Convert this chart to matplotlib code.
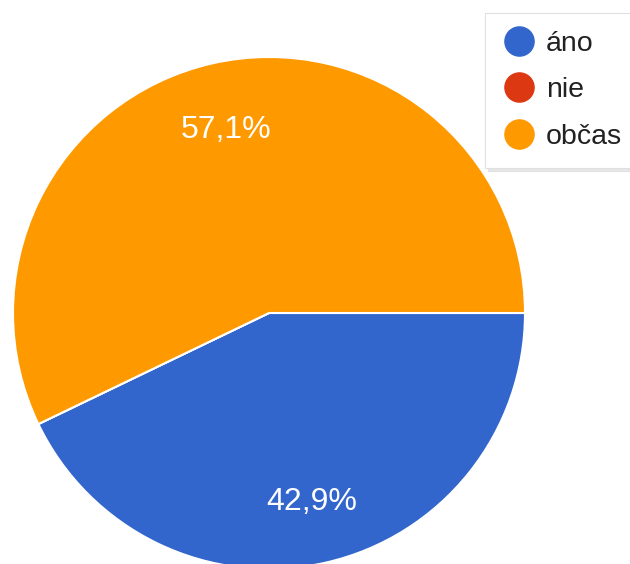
import matplotlib
matplotlib.use("Agg")
import matplotlib.pyplot as plt
from matplotlib.lines import Line2D

plt.rcParams['font.family'] = ['Liberation Sans', 'DejaVu Sans']

labels = ['áno', 'nie', 'občas']
counts = [3, 0, 4]
colors = ['#3366cc', '#dc3912', '#ff9900']

fig = plt.figure(figsize=(6.3, 5.64), dpi=100)
ax = fig.add_axes([0, 0, 1, 1])
ax.set_xlim(0, 630)
ax.set_ylim(0, 564)
ax.set_aspect('equal')
ax.axis('off')


def fmt(p):
    if p < 0.05:
        return ''
    return f'{p:.1f}%'.replace('.', ',')


wedges, texts, autotexts = ax.pie(
    counts, colors=colors, startangle=0, counterclock=False,
    center=(269, 564 - 313), radius=256, autopct=fmt, pctdistance=0.745,
    wedgeprops={'edgecolor': 'white', 'linewidth': 1.5},
    textprops={'color': 'white', 'fontsize': 23})
ax.set_xlim(0, 630)
ax.set_ylim(0, 564)
# nudge labels down a little (baseline vs bbox centring)
for t in autotexts:
    x, y = t.get_position()
    t.set_position((x, y - 3))

handles = [Line2D([], [], marker='o', linestyle='none', markersize=21,
                  markerfacecolor=c, markeredgecolor=c) for c in colors]
# legend box runs off the right edge, as in the original
leg = fig.legend(handles, labels, loc='upper left',
                 bbox_to_anchor=(485 / 630, 1 - 13 / 564),
                 bbox_transform=fig.transFigure, borderaxespad=0,
                 fontsize=20.5, frameon=True, fancybox=False,
                 shadow={'color': '0.82'},
                 handletextpad=0.4, labelspacing=0.72, borderpad=0.63,
                 handlelength=1.1)
leg.get_frame().set_edgecolor('#e0e0e0')
leg.get_frame().set_linewidth(0.8)
for t in leg.get_texts():
    t.set_color('#222222')

fig.savefig('out.png', dpi=100)
